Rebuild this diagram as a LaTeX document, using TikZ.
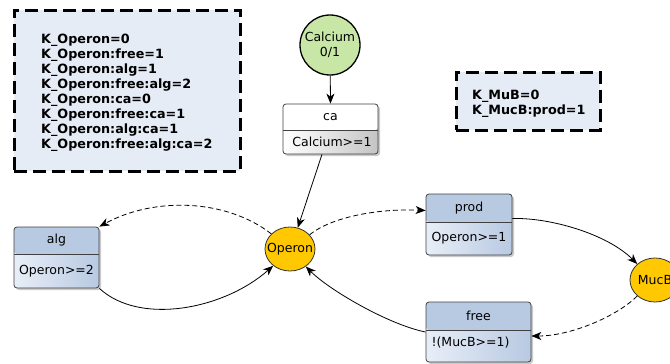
\documentclass[tikz,border=0pt]{standalone}
\usepackage{fontspec}
\setmainfont{DejaVu Sans}
\usetikzlibrary{arrows.meta,shapes.geometric,shadows}
\definecolor{hdr}{HTML}{B8C9E2}
\definecolor{lite}{HTML}{E8EEF7}
\definecolor{boxfill}{HTML}{E6ECF6}
\definecolor{calc}{HTML}{C8E6A6}
\definecolor{gold}{HTML}{FFC800}
\definecolor{gry}{HTML}{C4C4C4}
\tikzset{
  kbox/.style={draw=black, line width=3pt, dash pattern=on 13pt off 6pt, fill=boxfill},
  ktext/.style={font=\fontsize{12.75}{14.9}\selectfont\bfseries, align=left, anchor=north west, inner sep=0pt},
  lbl/.style={font=\fontsize{12.5}{15}\selectfont, inner sep=0pt},
  conn/.style={-{Stealth[length=10pt,width=8pt,inset=3pt]}, line width=0.8pt},
  dconn/.style={conn, dash pattern=on 5pt off 3pt},
  state/.style={ellipse, draw=black!80, line width=0.8pt, fill=gold, inner sep=0pt,
    minimum width=50pt, minimum height=44pt},
  rulebox/.style args={#1/#2/#3/#4/#5/#6}{draw=black!75, line width=0.8pt, rounded corners=3pt,
    inner sep=0pt, minimum width=#1, minimum height=#2,
    drop shadow={shadow xshift=2pt, shadow yshift=-2pt, opacity=0.35, fill=black!60},
    path picture={
      \fill[#4] (path picture bounding box.north west) rectangle ([yshift=-#3]path picture bounding box.north east);
      \shade[left color=#5, right color=#6] ([yshift=-#3]path picture bounding box.north west) rectangle (path picture bounding box.south east);
      \draw[black!75, line width=0.8pt] ([yshift=-#3]path picture bounding box.north west) -- ([yshift=-#3]path picture bounding box.north east);
    }},
}
\begin{document}
\begin{tikzpicture}[x=1pt,y=-1pt]
\useasboundingbox (0,0) rectangle (670,364);
% constants boxes
\node[kbox, minimum width=226pt, minimum height=161pt, inner sep=0pt] (kop) at (127,90.5) {};
\node[ktext] (koptext) at (41,34.2) {K\_Operon=0\\K\_Operon:free=1\\K\_Operon:alg=1\\K\_Operon:free:alg=2\\K\_Operon:ca=0\\K\_Operon:free:ca=1\\K\_Operon:alg:ca=1\\K\_Operon:free:alg:ca=2};
\node[kbox, minimum width=144pt, minimum height=58pt, inner sep=0pt] (kmu) at (528,101) {};
\node[ktext] (kmutext) at (472,90.2) {K\_MuB=0\\K\_MucB:prod=1};
% calcium
\node[circle, draw=black, line width=1.3pt, fill=calc, minimum size=60pt, inner sep=0pt,
  align=center, font=\fontsize{12.5}{15}\selectfont] (calcium) at (330,45) {Calcium\\0/1};
% rule boxes
\node[rulebox={95pt/50pt/26pt/white/white/gry}] (ca) at (330.5,129) {};
\node[lbl] (caT) at (330.5,117) {ca};
\node[lbl] (caC) at (332,142) {Calcium>=1};
\node[rulebox={85pt/61pt/27pt/hdr/lite/hdr}] (alg) at (56.5,257.5) {};
\node[lbl] (algT) at (56.5,240.5) {alg};
\node[lbl] (algC) at (56.5,271) {Operon>=2};
\node[rulebox={86pt/61pt/28pt/hdr/lite/hdr}] (prod) at (469,224.5) {};
\node[lbl] (prodT) at (469,208) {prod};
\node[lbl] (prodC) at (469,238.5) {Operon>=1};
\node[rulebox={105pt/60pt/28pt/hdr/lite/hdr}] (free) at (478.5,332) {};
\node[lbl] (freeT) at (478.5,316) {free};
\node[lbl] (freeC) at (470.5,343) {!(MucB>=1)};
% states
\node[state, label={[lbl,name=operonT]center:Operon}] (operon) at (290,249) {};
\node[state, label={[lbl,name=mucbT]center:MucB}] (mucb) at (655,280) {};
% connectors
\draw[conn] (calcium) -- (ca.north);
\draw[conn] ([xshift=-8.5pt]ca.south) -- (operon.70);
\draw[dconn] (operon.141) .. controls +(-45,-35) and +(55,-30) .. (alg.north east);
\draw[conn] (alg.south east) .. controls +(40,37) and +(-50,44) .. (operon.225);
\draw[dconn] (operon.36) .. controls +(25,-20) and +(-40,-2) .. ([yshift=14pt]prod.west);
\draw[conn] ([yshift=6pt]prod.east) .. controls +(38,-1) and +(-30,-30) .. (mucb.138);
\draw[dconn] (mucb.222) .. controls +(-20,20) and +(40,0) .. ([yshift=-4pt]free.east);
\draw[conn] (free.west) .. controls +(-36,-7) and +(24,24) .. (operon.312);
\end{tikzpicture}
\end{document}
